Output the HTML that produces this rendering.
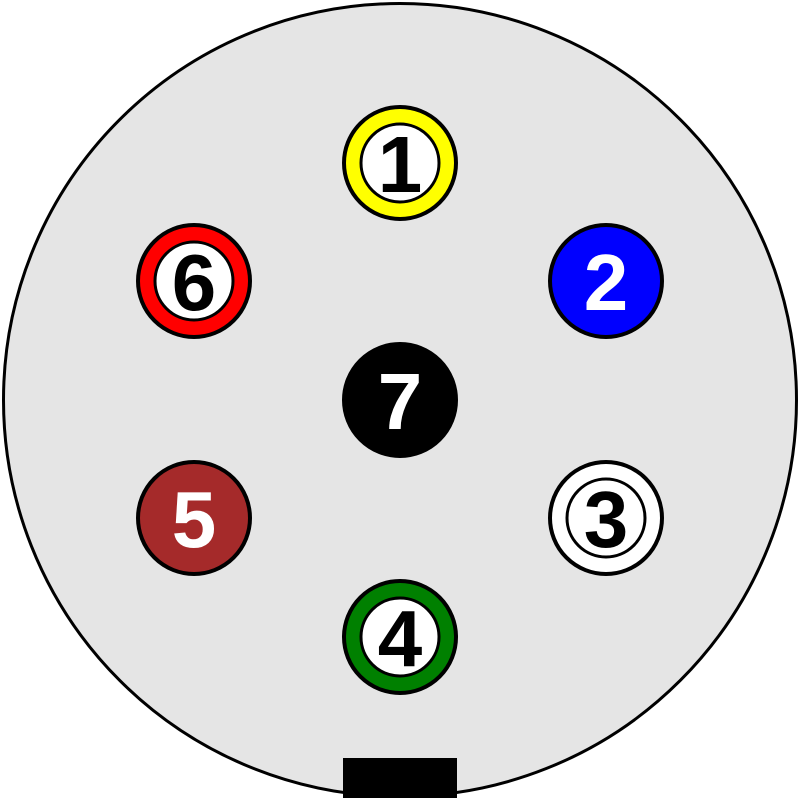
<!DOCTYPE html>
<html><head><style>html,body{margin:0;padding:0;background:#fff}svg{display:block}</style></head><body>
<svg width="800" height="800" viewBox="0 0 800 800" xmlns="http://www.w3.org/2000/svg">
<circle cx="400" cy="400" r="396.5" fill="#e5e5e5" stroke="#000" stroke-width="3"/>
<rect x="343" y="758" width="114" height="40" fill="#000"/>
<g stroke="#000" stroke-width="4" font-family="Liberation Sans, sans-serif" font-weight="bold" font-size="80" text-anchor="middle">
<circle cx="400" cy="163" r="56" fill="#ffff00"/><circle cx="400" cy="163" r="39" fill="#fff" stroke-width="3"/>
<text x="400" y="192" fill="#000" stroke="none">1</text>
<circle cx="606" cy="281" r="56" fill="#0000ff"/>
<text x="606" y="310" fill="#fff" stroke="none">2</text>
<circle cx="194" cy="281" r="56" fill="#ff0000"/><circle cx="194" cy="281" r="39" fill="#fff" stroke-width="3"/>
<text x="194" y="310" fill="#000" stroke="none">6</text>
<circle cx="400" cy="400" r="56" fill="#000"/>
<text x="400" y="429" fill="#fff" stroke="none">7</text>
<circle cx="194" cy="518" r="56" fill="#a52a2a"/>
<text x="194" y="547" fill="#fff" stroke="none">5</text>
<circle cx="606" cy="518" r="56" fill="#fff"/><circle cx="606" cy="518" r="39" fill="#fff" stroke-width="3"/>
<text x="606" y="547" fill="#000" stroke="none">3</text>
<circle cx="400" cy="637" r="56" fill="#008000"/><circle cx="400" cy="637" r="39" fill="#fff" stroke-width="3"/>
<text x="400" y="666" fill="#000" stroke="none">4</text>
</g>
</svg>
</body></html>
